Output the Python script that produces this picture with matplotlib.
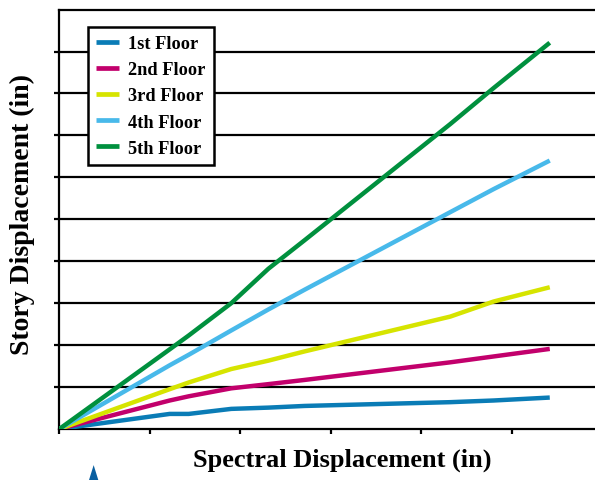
import matplotlib.pyplot as plt
from matplotlib.patches import Polygon

# spectral displacement (in) at each sampled point
spectral = [0, 1.22, 1.43, 1.90, 2.31, 2.71, 4.32, 4.80, 5.42]

floor1 = [0, 0.36, 0.36, 0.48, 0.51, 0.55, 0.64, 0.68, 0.75]
floor2 = [0, 0.68, 0.78, 0.97, 1.07, 1.17, 1.59, 1.73, 1.91]
floor3 = [0, 0.95, 1.11, 1.43, 1.63, 1.85, 2.68, 3.04, 3.38]
floor4 = [0, 1.52, 1.77, 2.35, 2.85, 3.32, 5.17, 5.72, 6.40]
floor5 = [0, 1.90, 2.23, 3.00, 3.82, 4.50, 7.27, 8.13, 9.21]

labels = ['1st Floor', '2nd Floor', '3rd Floor', '4th Floor', '5th Floor']
colors = ['#0a7cb6', '#c2006c', '#d6e400', '#48b9ea', '#00903e']

plt.rcParams['font.family'] = ['Liberation Serif', 'DejaVu Serif']
plt.rcParams['font.weight'] = 'bold'

fig = plt.figure(figsize=(5.95, 4.81), dpi=100)
ax = fig.add_axes([0.0997, 0.106, 0.9003, 0.872])

for ys, lab, c in zip([floor1, floor2, floor3, floor4, floor5], labels, colors):
    ax.plot(spectral, ys, color=c, lw=3.2, label=lab, solid_capstyle='butt', zorder=3)

ax.set_xlim(0, 5.92)
ax.set_ylim(0, 10)
ax.set_xticks(range(0, 6))
ax.set_yticks(range(1, 10))
ax.set_xticklabels([])
ax.set_yticklabels([])
for y in range(1, 11):
    ax.axhline(y, color='black', lw=1.6, zorder=1, clip_on=False)

ax.spines['right'].set_visible(False)
ax.spines['top'].set_visible(False)
ax.spines['left'].set_linewidth(1.6)
ax.spines['bottom'].set_linewidth(1.6)
ax.tick_params(direction='out', length=3.5, width=1.6, colors='black')

leg = ax.legend(loc='upper left', bbox_to_anchor=(0.0536, 0.9587), borderaxespad=0,
                frameon=True, fancybox=False, edgecolor='black', framealpha=1,
                handlelength=1.25, handletextpad=0.5, labelspacing=0.5,
                borderpad=0.45, prop={'weight': 'bold', 'size': 13.2})
leg.get_frame().set_linewidth(1.8)
for h in leg.get_lines():
    h.set_linewidth(3.4)

fig.text(0.5756, 0.031, 'Spectral Displacement (in)', ha='center', va='baseline',
         fontsize=19, fontweight='bold')
fig.text(0.037, 0.555, 'Story Displacement (in)', ha='center', va='center',
         rotation=90, fontsize=20, fontweight='bold')

# small blue marker at bottom-left of the original
fig.patches.append(Polygon([[0.1496, 0.0], [0.1574, 0.031], [0.1652, 0.0]],
                           closed=True, transform=fig.transFigure,
                           facecolor='#0a5fa0', edgecolor='none'))

fig.savefig('out.png', dpi=100)
